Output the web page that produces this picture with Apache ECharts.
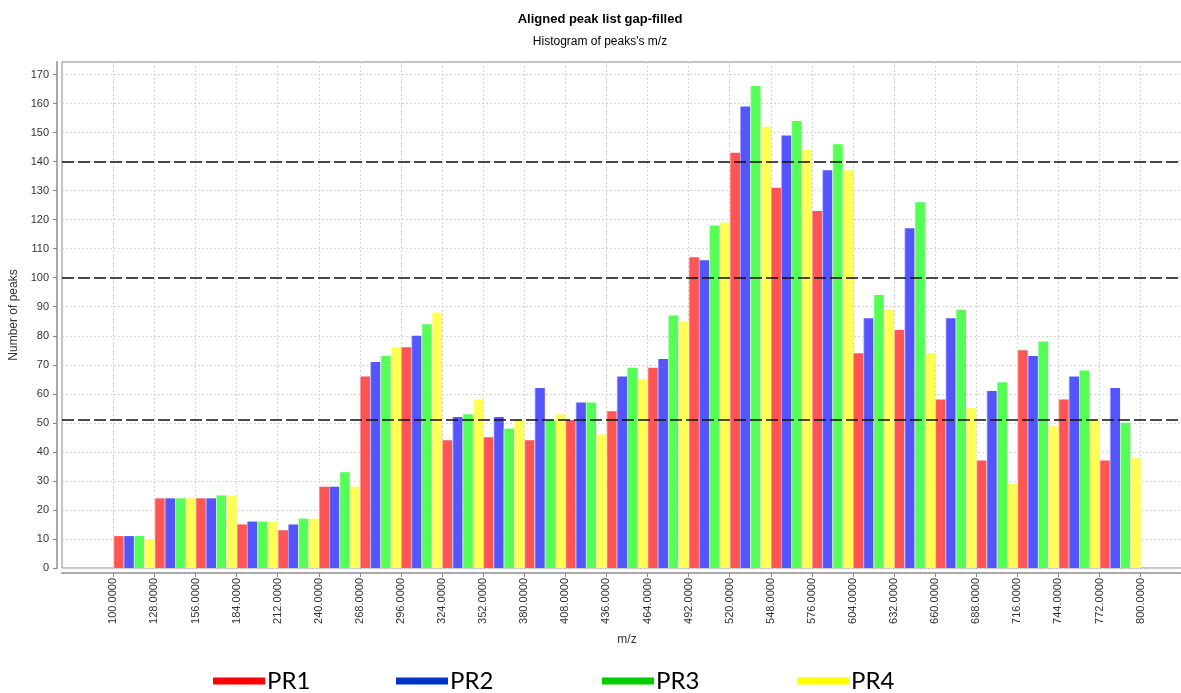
<!DOCTYPE html>
<html>
<head>
<meta charset="utf-8">
<script src="https://cdn.jsdelivr.net/npm/echarts@6/dist/echarts.min.js"></script>
<style>
html,body{margin:0;padding:0;background:#fff;}
#chart{width:1181px;height:693px;}
</style>
</head>
<body>
<div id="chart"></div>
<script>
// ---- data ----
const binEdges = [100,128,156,184,212,240,268,296,324,352,380,408,436,464,492,520,548,576,604,632,660,688,716,744,772,800];
const seriesNames = ['PR1','PR2','PR3','PR4'];
const pr1 = [11,24,24,15,13,28,66,76,44,45,44,51,54,69,107,143,131,123,74,82,58,37,75,58,37];
const pr2 = [11,24,24,16,15,28,71,80,52,52,62,57,66,72,106,159,149,137,86,117,86,61,73,66,62];
const pr3 = [11,24,25,16,17,33,73,84,53,48,51,57,69,87,118,166,154,146,94,126,89,64,78,68,50];
const pr4 = [10,24,25,16,17,28,76,88,58,51,53,46,65,85,119,152,144,137,89,74,55,29,49,51,38];
const yTicks = [0,10,20,30,40,50,60,70,80,90,100,110,120,130,140,150,160,170];
const refLines = [140,100,51];

const barColors = ['#ff5555','#5555ff','#55ff55','#ffff55'];
const barLight = ['#ffc8c8','#c8c8ff','#c8ffc8','#ffffd0'];
const legendColors = ['#ff0000','#0033cc','#00cc00','#ffff00'];
const legendLeft = [213,396,602,797];
const values = [pr1, pr2, pr3, pr4];

const chart = echarts.init(document.getElementById('chart'), null, {renderer:'canvas'});

const series = seriesNames.map((name, k) => {
  const s = {
    name: name,
    type: 'bar',
    barGap: '0%',
    barCategoryGap: '0%',
    silent: true,
    data: values[k].map((v, i) => [(binEdges[i] + binEdges[i + 1]) / 2, v]),
    itemStyle: {
      color: new echarts.graphic.LinearGradient(0, 0, 1, 0, [
        {offset: 0, color: barLight[k]},
        {offset: 0.14, color: barColors[k]},
        {offset: 1, color: barColors[k]}
      ])
    }
  };
  if (k === 0) {
    s.markLine = {
      silent: true,
      symbol: 'none',
      label: {show: false},
      lineStyle: {color: '#111', type: [12, 4], width: 1.5},
      data: refLines.map(v => ({yAxis: v}))
    };
  }
  return s;
});

const option = {
  backgroundColor: '#fff',
  animation: false,
  textStyle: {fontFamily: 'Liberation Sans'},
  title: [
    {text: 'Aligned peak list gap-filled', left: 595, top: 8, textAlign: 'center',
     textStyle: {fontSize: 13, fontWeight: 'bold', color: '#000', fontFamily: 'Liberation Sans'}},
    {text: "Histogram of peaks's m/z", left: 595, top: 31, textAlign: 'center',
     textStyle: {fontSize: 12, fontWeight: 'normal', color: '#000', fontFamily: 'Liberation Sans'}}
  ],
  legend: seriesNames.map((name, k) => ({
    data: [{name: name, itemStyle: {color: legendColors[k]}}],
    left: legendLeft[k],
    top: 669,
    padding: 0,
    icon: 'rect',
    itemWidth: 52,
    itemHeight: 7,
    selectedMode: false,
    textStyle: {fontSize: 24, fontFamily: 'Lato', color: '#000', padding: [0, 0, 0, -3]}
  })),
  grid: {
    left: 62, top: 62, width: 1130, height: 506,
    show: true, borderColor: '#888', borderWidth: 1,
    containLabel: false, outerBoundsMode: 'none'
  },
  xAxis: {
    type: 'value', min: 65, max: 835, offset: 5,
    name: 'm/z', nameLocation: 'middle', nameGap: 61,
    nameTextStyle: {fontSize: 12, color: '#333', fontFamily: 'Liberation Sans'},
    axisLine: {show: true, onZero: false, lineStyle: {color: '#aaa', width: 2}},
    axisTick: {show: true, customValues: binEdges, length: 4, lineStyle: {color: '#888'}},
    axisLabel: {customValues: binEdges, rotate: 90, margin: 5, fontSize: 11, color: '#333',
      fontFamily: 'Liberation Sans', formatter: v => Number(v).toFixed(4)},
    splitLine: {show: true, lineStyle: {color: '#d6d6d6', type: [2, 2], width: 1}}
  },
  yAxis: {
    type: 'value', min: 0, max: 174.3, offset: 5,
    name: 'Number of peaks', nameLocation: 'middle', nameGap: 33, nameRotate: 90,
    nameTextStyle: {fontSize: 12, color: '#333', fontFamily: 'Liberation Sans'},
    axisLine: {show: true, lineStyle: {color: '#aaa', width: 2}},
    axisTick: {show: true, customValues: yTicks, length: 4, lineStyle: {color: '#888'}},
    axisLabel: {customValues: yTicks, margin: 8, fontSize: 11, color: '#333', fontFamily: 'Liberation Sans'},
    splitLine: {show: true, lineStyle: {color: '#d6d6d6', type: [2, 2], width: 1}}
  },
  series: series
};

chart.setOption(option);
</script>
</body>
</html>
